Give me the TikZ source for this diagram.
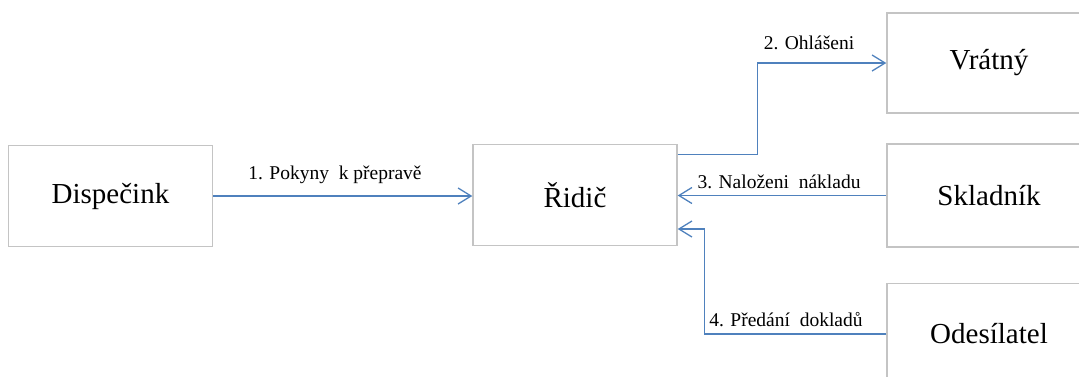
\documentclass[tikz,border=0pt]{standalone}
\usepackage{fontspec}
\setmainfont{Liberation Serif}
\usetikzlibrary{arrows.meta}
\definecolor{boxline}{HTML}{C4C4C4}
\definecolor{flowblue}{HTML}{4F81BD}
\tikzset{
  role/.style={draw=boxline, line width=1.4pt, fill=white, minimum width=204pt,
    minimum height=101pt, inner sep=0pt, font=\fontsize{29}{32}\selectfont},
  flow/.style={draw=flowblue, line width=1.3pt,
    -{Straight Barb[length=13pt,width=16pt]}},
  tag/.style={inner sep=0pt, font=\fontsize{19.5}{22}\selectfont}
}
\begin{document}
\begin{tikzpicture}[x=1pt,y=-1pt]
  \path[use as bounding box, clip] (0,0) rectangle (1079,376);

  % participants
  \node[role] (disp)  at (110.5,196) {Dispečink};
  \node[role] (ridic) at (575,195) {Řidič};
  \node[role, minimum height=100pt] (vrat) at (989,63) {Vrátný};
  \node[role, minimum height=103pt] (sklad) at (989,195.5) {Skladník};
  \node[role] (odes) at (989,334) {Odesílatel};

  % connection points on the driver's box
  \coordinate (r2) at ([yshift=-10.5pt]ridic.north east);
  \coordinate (r4) at ([yshift=-34pt]ridic.east);

  % message flows
  \draw[flow] (disp.east) -- (disp.east -| ridic.west);
  \draw[flow] (r2) -- ++(80,0) |- (vrat.west);
  \draw[flow] (sklad.west) -- (sklad.west -| ridic.east);
  \draw[flow] (odes.west) -| ([xshift=27pt]r4) -- (r4);

  % flow labels
  \node[tag] (t1) at (335,175) {1. Pokyny\ \ k přepravě};
  \node[tag] (t2) at (809,43) {2. Ohlášeni};
  \node[tag] (t3) at (779,182) {3. Naloženi\ \ nákladu};
  \node[tag] (t4) at (786,320) {4. Předání\ \ dokladů};
\end{tikzpicture}
\end{document}
